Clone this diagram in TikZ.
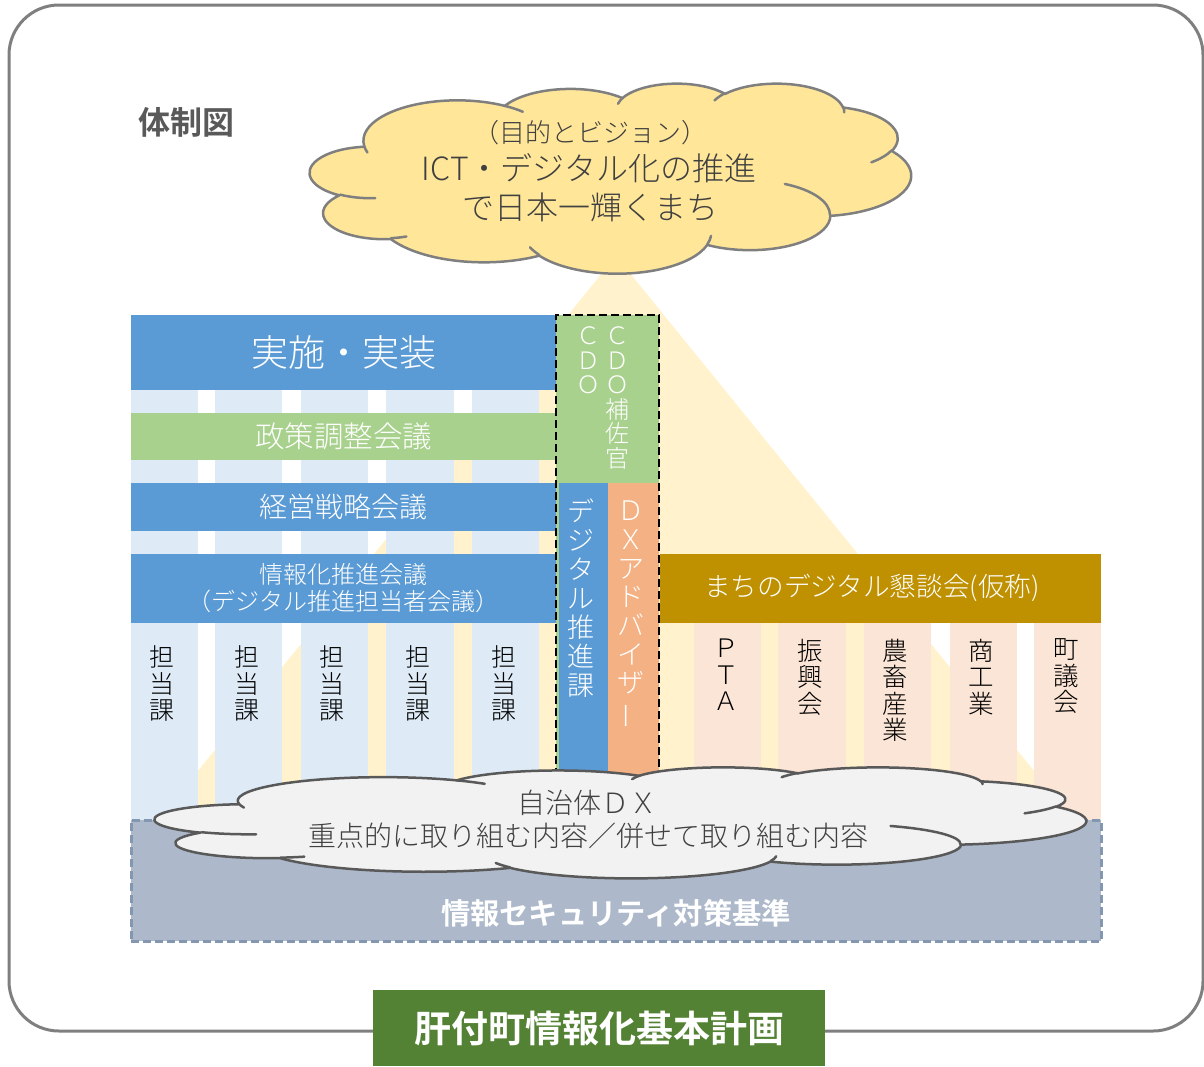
\documentclass[tikz,border=0pt]{standalone}
\usepackage{fontspec}
\setmainfont{Noto Sans CJK JP}[UprightFont={Noto Sans CJK JP Light},BoldFont={Noto Sans CJK JP Bold}]
\usepackage{graphicx}
\definecolor{cBlue}{HTML}{5B9BD5}
\definecolor{cLBlue}{HTML}{DEEBF7}
\definecolor{cGreen}{HTML}{A9D18E}
\definecolor{cOrange}{HTML}{F4B183}
\definecolor{cGold}{HTML}{BF9000}
\definecolor{cPeach}{HTML}{FBE5D6}
\definecolor{cTri}{HTML}{FFF2CC}
\definecolor{cCloudY}{HTML}{FFE699}
\definecolor{cCloudG}{HTML}{F2F2F2}
\definecolor{cGrayLine}{HTML}{7F7F7F}
\definecolor{cDarkLine}{HTML}{595959}
\definecolor{cTextG}{HTML}{404040}
\definecolor{cSec}{HTML}{ADB9CA}
\definecolor{cSecLine}{HTML}{8497B0}
\definecolor{cTitle}{HTML}{548235}

\newcommand\fs[2]{\fontsize{#1}{#2}\selectfont}

% PowerPoint-like cloud geometry, path units 432 x 432, y downward (negated)
\def\ooPath{}
\newcommand\ooArc[4]{%
  \pgfmathsetmacro\ooA{atan2((#1)*sin(#3),(#2)*cos(#3))}%
  \pgfmathsetmacro\ooB{atan2((#1)*sin((#3)+(#4)),(#2)*cos((#3)+(#4)))}%
  \pgfmathsetmacro\ooD{(\ooB)-(\ooA)}%
  \pgfmathsetmacro\ooD{(\ooD)+360*round(((#4)-(\ooD))/360)}%
  \pgfmathsetmacro\ooA{0-(\ooA)}%
  \pgfmathsetmacro\ooD{0-(\ooD)}%
  \xdef\ooPath{\ooPath\space arc[start angle=\ooA, delta angle=\ooD, x radius=#1, y radius=#2]}%
}
\newcommand\ooMove[2]{\xdef\ooPath{\ooPath\space(#1,-#2)}}
\ooMove{39.00}{143.70}
\ooArc{67.53}{91.90}{-190.4875}{123.7805}
\ooArc{53.33}{72.67}{-144.1024}{89.9452}
\ooArc{43.65}{59.45}{-145.8079}{99.7230}
\ooArc{48.57}{65.95}{-130.9861}{117.2417}
\ooArc{53.33}{72.73}{-78.7089}{109.0269}
\ooArc{67.75}{92.20}{-46.2673}{130.2690}
\ooArc{57.85}{78.67}{0.6250}{114.0333}
\ooArc{67.52}{92.15}{22.4516}{115.1726}
\ooArc{77.20}{105.43}{66.2426}{75.7110}
\ooArc{43.60}{59.18}{-274.9421}{146.7356}
\ooArc{43.45}{59.45}{-246.8285}{152.5189}
\xdef\ooOutline{\ooPath\space -- cycle}
\gdef\ooPath{}
\ooMove{46.93}{261.77}\ooArc{43.45}{59.45}{86.7420}{26.4295}
\ooMove{69.28}{348.99}\ooArc{43.60}{59.18}{73.6105}{11.4475}
\ooMove{164.78}{390.90}\ooArc{67.52}{92.15}{137.6242}{14.0811}
\ooMove{288.27}{347.51}\ooArc{67.52}{92.15}{6.4533}{15.9984}
\ooMove{341.29}{229.54}\ooArc{57.85}{78.67}{-70.2924}{70.9174}
\ooMove{417.98}{153.54}\ooArc{53.33}{72.73}{30.3180}{27.7515}
\ooMove{383.24}{54.26}\ooArc{48.57}{65.95}{-13.7443}{14.8589}
\ooMove{290.78}{39.52}\ooArc{48.57}{65.95}{-149.1815}{18.1954}
\ooMove{221.41}{47.20}\ooArc{43.65}{59.45}{-163.4943}{17.6864}
\ooMove{140.00}{51.92}\ooArc{67.53}{91.90}{-66.7070}{12.3194}
\ooMove{41.27}{157.89}\ooArc{67.53}{91.90}{157.6544}{11.8582}
\xdef\ooInner{\ooPath}

\tikzset{
  txt/.style={inner sep=0pt, outer sep=0pt},
  wtxt/.style={txt, text=white},
  vtxt/.style={txt, align=center, anchor=north},
  barbox/.style={inner sep=0pt, outer sep=0pt, text=white},
  cloudline/.style={line width=2.5pt, line join=round, line cap=round},
}

\begin{document}
\begin{tikzpicture}[x=1pt,y=-1pt]
\useasboundingbox (0,0) rectangle (1204,1066);
% outer frame
\draw[cGrayLine, line width=3pt, rounded corners=50pt] (9,5) rectangle (1203,1031);
% light triangle
\fill[cTri] (616,256) -- (150,830) -- (1082,830) -- cycle;
% columns
\foreach \a/\b in {131/198,215/282,301/368,386/454,472/539}
  \fill[cLBlue] (\a,390) rectangle (\b,820);
\foreach \a/\b in {694/761,778/846,864/931,950/1017,1034/1101}
  \fill[cPeach] (\a,623) rectangle (\b,820);
% horizontal bars
\node[barbox, fill=cBlue, minimum width=425pt, minimum height=75pt, font=\fs{37}{40}] (jisshi) at (343.5,352.5) {実施・実装};
\node[barbox, fill=cGreen, minimum width=425pt, minimum height=47pt, font=\fs{29.5}{31}] (seisaku) at (343.5,436.5) {政策調整会議};
\node[barbox, fill=cBlue, minimum width=425pt, minimum height=48pt, font=\fs{28}{30}] (keiei) at (343.5,507) {経営戦略会議};
\node[barbox, fill=cBlue, minimum width=425pt, minimum height=69pt, font=\fs{24}{27}, align=center] (johoka) at (343.5,588.5) {情報化推進会議\\（デジタル推進担当者会議）};
\node[barbox, fill=cGold, minimum width=441pt, minimum height=69pt] (kondan) at (880.5,588.5) {};
\node[wtxt, font=\fs{26.6}{28}] (kondanT) at (872,588) {まちのデジタル懇談会(仮称)};
% CDO column
\fill[cGreen] (556,315) rectangle (659,800);
\fill[cBlue] (559,483) rectangle (608,800);
\fill[cOrange] (608,483) rectangle (659,800);
\draw[black, line width=2.5pt, dash pattern=on 8pt off 4pt] (556,800) -- (556,315) -- (659,315) -- (659,800);
\node[vtxt, text=white, font=\fs{24}{24.5}] (cdo) at (588,327) {Ｃ\\Ｄ\\Ｏ};
\node[vtxt, text=white, font=\fs{24}{24.5}] (cdoh) at (617,327) {Ｃ\\Ｄ\\Ｏ\\補\\佐\\官};
\node[vtxt, text=white, font=\fs{27}{29}] (dsk) at (581,499) {デ\\ジ\\タ\\ル\\推\\進\\課};
\node[vtxt, text=white, font=\fs{27}{28.7}] (dxa) at (631,501) {Ｄ\\Ｘ\\ア\\ド\\バ\\イ\\ザ\\\rotatebox[origin=c]{90}{ー}};
% tanto-ka
\foreach \x/\n in {162/t1,247/t2,332/t3,418/t4,504/t5}
  \node[vtxt, text=black, font=\fs{25}{26.5}] (\n) at (\x,646) {担\\当\\課};
% town groups
\node[vtxt, text=black, font=\fs{25.5}{26.5}] (pta) at (726,639) {Ｐ\\Ｔ\\Ａ};
\node[vtxt, text=black, font=\fs{25.5}{26.5}] (shinko) at (810,639) {振\\興\\会};
\node[vtxt, text=black, font=\fs{25.5}{26.5}] (nochiku) at (895,639) {農\\畜\\産\\業};
\node[vtxt, text=black, font=\fs{25.5}{26.5}] (shoko) at (981,639) {商\\工\\業};
\node[vtxt, text=black, font=\fs{25.5}{26.5}] (gikai) at (1066,639) {町\\議\\会};
% security base
\node[draw=cSecLine, fill=cSec, line width=3pt, dash pattern=on 8pt off 4pt, minimum width=970pt, minimum height=121pt, inner sep=0pt] (sec) at (616,880.5) {};
\node[wtxt, font=\bfseries\fs{29.3}{31}] (secT) at (616,913) {情報セキュリティ対策基準};
% bottom cloud
\begin{scope}[xshift=155pt, yshift=-767pt, x=1pt, y=1pt, xscale=2.1551, yscale=0.2569]
  \filldraw[fill=cCloudG, draw=cDarkLine, cloudline] \ooOutline;
  \draw[cDarkLine, cloudline] \ooInner;
\end{scope}
\node[txt, text=cTextG, font=\fs{28}{30}] (dx1) at (587,803) {自治体ＤＸ};
\node[txt, text=cTextG, font=\fs{28}{30}] (dx2) at (588,836) {重点的に取り組む内容／併せて取り組む内容};
% top cloud
\begin{scope}[xshift=310pt, yshift=-83pt, x=1pt, y=1pt, xscale=1.3912, yscale=0.4398]
  \filldraw[fill=cCloudY, draw=cGrayLine, cloudline] \ooOutline;
  \draw[cGrayLine, cloudline] \ooInner;
\end{scope}
\node[txt, text=cTextG, font=\fs{26}{28}] (vis1) at (590,133) {（目的とビジョン）};
\node[txt, text=cTextG, font=\fs{32}{34}] (vis2) at (589,168) {ICT・デジタル化の推進};
\node[txt, text=cTextG, font=\fs{32}{34}] (vis3) at (590,207) {で日本一輝くまち};
% heading
\node[txt, text=cDarkLine, font=\bfseries\fs{32}{34}] (taisei) at (186,122) {体制図};
% title
\node[fill=cTitle, text=white, font=\bfseries\fs{37}{40}, minimum width=452pt, minimum height=76pt, inner sep=0pt] (plan) at (599,1028) {肝付町情報化基本計画};
\end{tikzpicture}
\end{document}
